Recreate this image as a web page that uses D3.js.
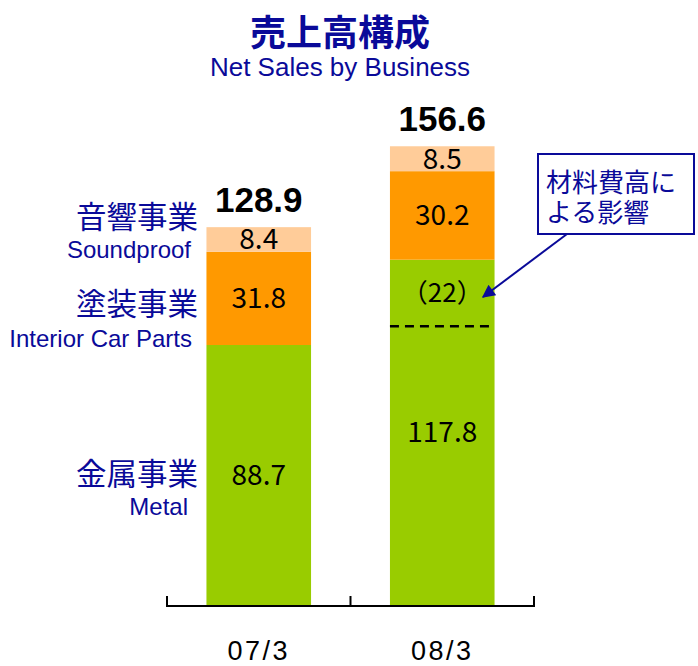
<!DOCTYPE html>
<html><head><meta charset="utf-8">
<script src="https://cdn.jsdelivr.net/npm/d3@7"></script>
<style>
html,body{margin:0;padding:0;background:#fff;}
svg{display:block;}
</style></head>
<body>
<svg id="chart" width="698" height="666"></svg>
<script>
const categories = ["07/3", "08/3"];
const metal = [88.7, 117.8];
const interior = [31.8, 30.2];
const soundproof = [8.4, 8.5];
const totals = [128.9, 156.6];
const materialImpact = 22; // (22) inside 08/3 metal
const seriesNames = [["金属事業", "Metal"], ["塗装事業", "Interior Car Parts"], ["音響事業", "Soundproof"]];
const seriesColors = ["#99CC00", "#FF9900", "#FFCC99"];
const titleJa = "売上高構成";
const titleEn = "Net Sales by Business";
const noteLines = ["材料費高に", "よる影響"];

const NAVY = "#0a0a99";
const JP = "'Noto Sans CJK JP', sans-serif";
const EN = "'Liberation Sans', Arial, sans-serif";

const svg = d3.select("#chart");
const x = d3.scaleBand().domain(categories).range([167, 534]).padding(0);
const y = d3.scaleLinear().domain([0, 160]).range([605, 136]);
const barW = x.bandwidth() * 0.57;
const bx = c => x(c) + (x.bandwidth() - barW) / 2;

// stacked data
const rows = categories.map((c, i) => ({ cat: c, values: [metal[i], interior[i], soundproof[i]] }));
const stack = d3.stack().keys([0, 1, 2]).value((d, k) => d.values[k]);
const series = stack(rows);

series.forEach((s, k) => {
  svg.append("g").selectAll("rect").data(s).join("rect")
    .attr("x", d => bx(d.data.cat))
    .attr("y", d => y(d[1]))
    .attr("width", barW)
    .attr("height", d => y(d[0]) - y(d[1]))
    .attr("fill", seriesColors[k]);
});

// segment value labels
series.forEach((s, k) => {
  svg.append("g").selectAll("text").data(s).join("text")
    .attr("x", d => bx(d.data.cat) + barW / 2)
    .attr("y", d => (y(d[0]) + y(d[1])) / 2 + 10)
    .attr("text-anchor", "middle")
    .attr("font-family", JP)
    .attr("font-size", 28)
    .attr("fill", "#000")
    .text(d => d.data.values[k].toFixed(1));
});

// totals
svg.append("g").selectAll("text").data(categories).join("text")
  .attr("x", c => x(c) + x.bandwidth() / 2)
  .attr("y", (c, i) => y(totals[i]) - 15)
  .attr("text-anchor", "middle")
  .attr("font-family", EN)
  .attr("font-weight", "bold")
  .attr("font-size", 35)
  .attr("fill", "#000")
  .text((c, i) => totals[i].toFixed(1));

// material impact in 08/3 metal
const c2 = categories[1];
const dashVal = metal[1] - materialImpact;
svg.append("line")
  .attr("x1", bx(c2)).attr("x2", bx(c2) + barW)
  .attr("y1", y(dashVal) + 2).attr("y2", y(dashVal) + 2)
  .attr("stroke", "#000").attr("stroke-width", 2.5).attr("stroke-dasharray", "9,6");
svg.append("text")
  .attr("x", bx(c2) + barW / 2)
  .attr("y", (y(dashVal) + y(metal[1])) / 2 + 10)
  .attr("text-anchor", "middle")
  .attr("font-family", JP).attr("font-size", 26).attr("fill", "#000")
  .text("（" + materialImpact + "）");

// axis
const axisY = 606;
svg.append("line").attr("x1", 167).attr("x2", 534).attr("y1", axisY).attr("y2", axisY)
  .attr("stroke", "#000").attr("stroke-width", 2);
const tickXs = [x(categories[0]), x(categories[1]), x(categories[1]) + x.bandwidth()];
svg.append("g").selectAll("line").data(tickXs).join("line")
  .attr("x1", d => d).attr("x2", d => d).attr("y1", axisY + 1).attr("y2", axisY - 10)
  .attr("stroke", "#000").attr("stroke-width", 2);
svg.append("g").selectAll("text").data(categories).join("text")
  .attr("x", c => x(c) + x.bandwidth() / 2)
  .attr("y", 660)
  .attr("text-anchor", "middle")
  .attr("font-family", EN).attr("font-size", 27).attr("letter-spacing", 2.5).attr("fill", "#000")
  .text(c => c);

// titles
svg.append("text").attr("x", 340).attr("y", 30)
  .attr("text-anchor", "middle").attr("dominant-baseline", "central")
  .attr("font-family", JP).attr("font-weight", "bold").attr("font-size", 36)
  .attr("fill", NAVY).text(titleJa);
svg.append("text").attr("x", 340).attr("y", 76)
  .attr("text-anchor", "middle")
  .attr("font-family", EN).attr("font-size", 26)
  .attr("fill", NAVY).text(titleEn);

// left series labels
const labelPos = [
  { jaY: 472, enY: 515, enX: 188 },
  { jaY: 302, enY: 347, enX: 192 },
  { jaY: 215, enY: 258, enX: 191 }
];
seriesNames.forEach((n, k) => {
  svg.append("text").attr("x", 198).attr("y", labelPos[k].jaY)
    .attr("text-anchor", "end").attr("dominant-baseline", "central")
    .attr("font-family", JP).attr("font-size", 30.5).attr("fill", NAVY).text(n[0]);
  svg.append("text").attr("x", labelPos[k].enX).attr("y", labelPos[k].enY)
    .attr("text-anchor", "end")
    .attr("font-family", EN).attr("font-size", 24).attr("fill", NAVY).text(n[1]);
});

// annotation box
svg.append("rect").attr("x", 538).attr("y", 154).attr("width", 156).attr("height", 80)
  .attr("fill", "#fff").attr("stroke", NAVY).attr("stroke-width", 2);
const note = svg.append("text").attr("x", 546).attr("y", 192)
  .attr("font-family", JP).attr("font-size", 26).attr("fill", NAVY);
noteLines.forEach((t, i) => {
  note.append("tspan").attr("x", 546).attr("dy", i === 0 ? 0 : 30).text(t);
});

// arrow
svg.append("defs").append("marker").attr("id", "ah")
  .attr("viewBox", "0 0 10 10").attr("refX", 9).attr("refY", 5)
  .attr("markerWidth", 7.5).attr("markerHeight", 6.5).attr("markerUnits", "strokeWidth")
  .attr("orient", "auto")
  .append("path").attr("d", "M0,0 L10,5 L0,10 Z").attr("fill", NAVY);
svg.append("line").attr("x1", 567).attr("y1", 234).attr("x2", 483).attr("y2", 297)
  .attr("stroke", NAVY).attr("stroke-width", 2).attr("marker-end", "url(#ah)");
</script>
</body></html>
